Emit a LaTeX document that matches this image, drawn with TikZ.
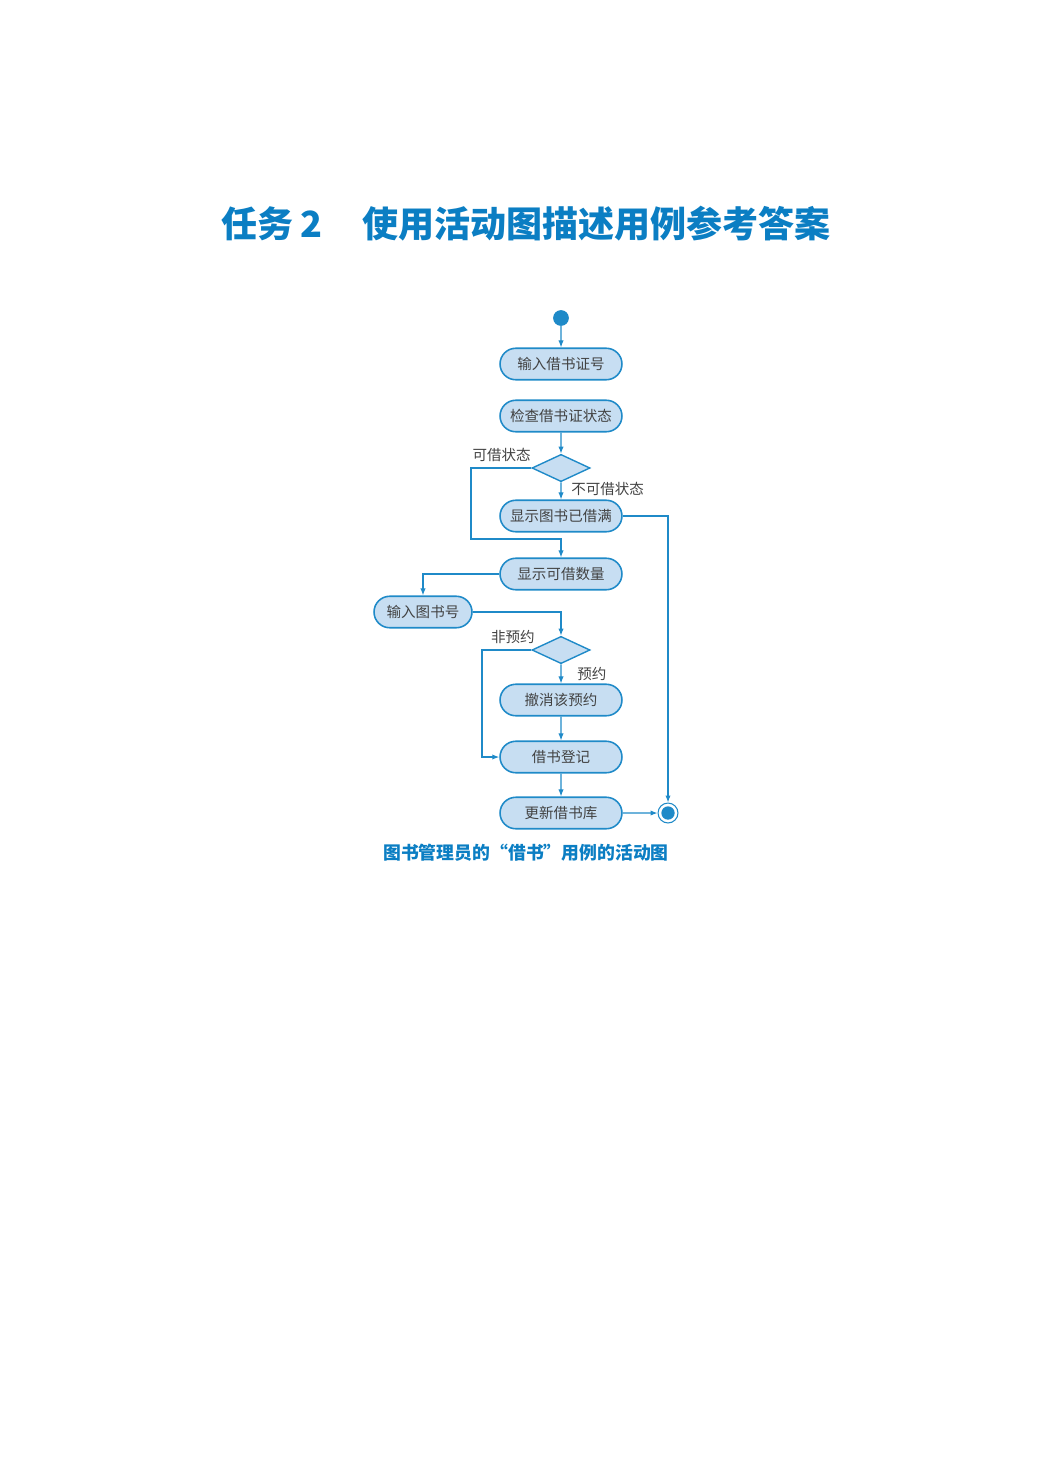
\documentclass[tikz,border=0pt]{standalone}
\usepackage{fontspec}
\setmainfont{Noto Sans CJK SC}
\usetikzlibrary{shapes.geometric, shapes.misc, arrows.meta}

\definecolor{umlblue}{HTML}{1F8AC8}
\definecolor{umlfill}{HTML}{C7DEF2}
\definecolor{titleblue}{HTML}{0B7EC3}
\definecolor{textgray}{HTML}{424242}

\begin{document}
\begin{tikzpicture}[x=0.5716pt, y=-0.5716pt,
		activity/.style={rounded rectangle, draw=umlblue, fill=umlfill, line width=0.9pt,
			minimum width=69.7pt, minimum height=18pt, inner sep=0pt,
			text=textgray, font=\fontsize{8.3pt}{10pt}\selectfont},
		choice/.style={diamond, draw=umlblue, fill=umlfill, line width=0.8pt,
			minimum width=33.2pt, minimum height=15.6pt, inner sep=0pt, aspect=2.1},
		guard/.style={inner sep=0pt, text=textgray, font=\fontsize{8.3pt}{10pt}\selectfont},
		flow/.style={draw=umlblue, line width=0.6pt, -{Latex[length=4pt, width=3pt]}}
		]
		\useasboundingbox (0, 0) rectangle (1041, 1474);
		
		% ---- TITLE ----
		\node[anchor=west, inner sep=0pt, text=titleblue,
			font=\fontsize{20.6pt}{24pt}\selectfont\bfseries] (title) at (221, 224)
			{任务\hspace{0.2em}2\hspace{1.1em}使用活动图描述用例参考答案};
		
		% ---- NODES ----
		\node[circle, fill=umlblue, minimum size=9pt, inner sep=0pt] (start) at (561, 318) {};
		\node[activity] (card) at (561, 364) {输入借书证号};
		\node[activity] (check) at (561, 416) {检查借书证状态};
		\node[choice] (d1) at (561, 468) {};
		\node[activity] (full) at (561, 516) {显示图书已借满};
		\node[activity] (count) at (561, 574) {显示可借数量};
		\node[activity, minimum width=56pt] (book) at (423, 612) {输入图书号};
		\node[choice] (d2) at (561, 650) {};
		\node[activity] (cancel) at (561, 700) {撤消该预约};
		\node[activity] (record) at (561, 757) {借书登记};
		\node[activity] (update) at (561, 813) {更新借书库};
		\node[circle, draw=umlblue, line width=0.6pt, fill=white, minimum size=11.4pt, inner sep=0pt] (stop) at (668, 813) {};
		\node[circle, fill=umlblue, minimum size=7.6pt, inner sep=0pt] (stopdot) at (668, 813) {};
		
		% ---- BENDS ----
		\coordinate (b1) at (471, 539);
		\coordinate (b2) at (482, 700);
		
		% ---- EDGES ----
		\path[flow] (start) -- (card);
		\path[flow] (check) -- (d1);
		\path[flow] (d1) -- (full);
		\path[flow] (d1.west) -| (b1) -| (count.north);
		\path[flow] (full.east) -| (stop.north);
		\path[flow] (count.west) -| (book.north);
		\path[flow] (book.east) -| (d2.north);
		\path[flow] (d2) -- (cancel);
		\path[flow] (d2.west) -| (b2) |- (record.west);
		\path[flow] (cancel) -- (record);
		\path[flow] (record) -- (update);
		\path[flow] (update) -- (stop);
		
		% ---- LABELS ----
		\node[guard, anchor=east] (l1) at (531, 455) {可借状态};
		\node[guard, anchor=west] (l2) at (571, 489) {不可借状态};
		\node[guard, anchor=east] (l3) at (535, 637) {非预约};
		\node[guard, anchor=west] (l4) at (577, 674) {预约};
		
		% ---- CAPTION ----
		\node[inner sep=0pt, text=titleblue, font=\fontsize{10.2pt}{12pt}\selectfont\bfseries] (caption) at (526, 853)
			{图书管理员的“借书”用例的活动图};
		
	\end{tikzpicture}
\end{document}
